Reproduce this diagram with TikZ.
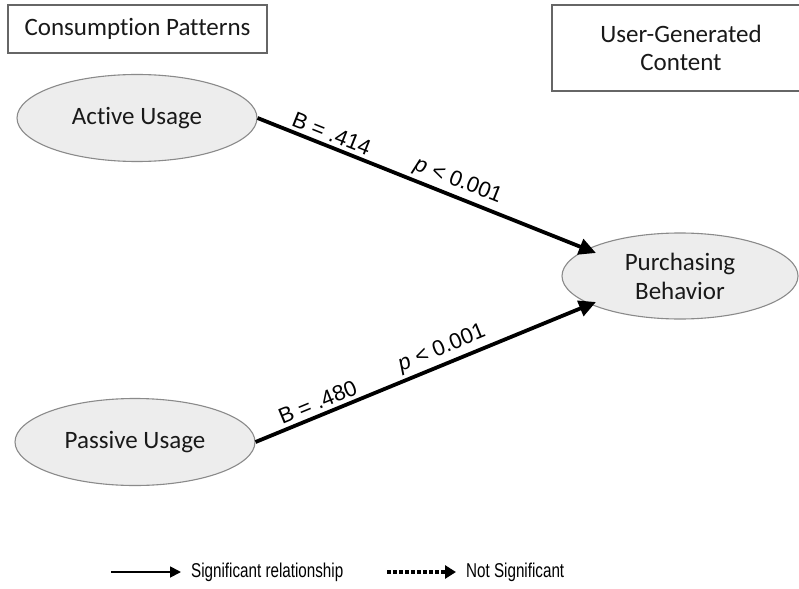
\documentclass[tikz,border=0pt]{standalone}
\usepackage{fontspec}
\setmainfont{Carlito}[Ligatures=NoCommon]
\newfontfamily\arialfont{Liberation Sans}
\newfontfamily\narrowfont[FakeStretch=0.76]{Liberation Sans}
\usetikzlibrary{arrows.meta,shapes.geometric,calc}
\definecolor{ellfill}{HTML}{EDEDED}
\definecolor{ellline}{HTML}{8A8A8A}
\definecolor{boxline}{HTML}{666666}
\tikzset{
  construct/.style={draw=ellline, line width=1.1pt, fill=ellfill, ellipse,
    minimum width=240pt, minimum height=87pt, inner sep=0pt,
    font=\fontsize{25}{29}\selectfont, align=center, text=black!90},
  groupbox/.style={draw=boxline, line width=1.3pt, inner sep=0pt,
    font=\fontsize{25}{28}\selectfont, align=center, text=black!90},
  relpath/.style={line width=3.8pt, -{Triangle[length=17pt,width=16pt]}},
  coef/.style={sloped, above, inner sep=3.5pt, font=\arialfont\fontsize{22}{26}\selectfont},
  legendtext/.style={anchor=west, inner sep=0pt, font=\narrowfont\fontsize{20}{24}\selectfont}
}
\begin{document}
\begin{tikzpicture}[x=1pt,y=-1pt]
  \useasboundingbox (0,0) rectangle (799,588);

  % group headers
  \node[groupbox, minimum width=259pt, minimum height=48pt] (cp) at (137.5,29) {\raisebox{-2pt}{Consumption Patterns}};
  \node[groupbox, minimum width=258pt, minimum height=86pt] (ugc) at (681,48) {User-Generated\\Content};

  % constructs
  \node[construct] (au) at (137,118) {\raisebox{-2pt}{Active Usage}};
  \node[construct] (pu) at (135,442) {\raisebox{-2pt}{Passive Usage}};
  \node[construct, minimum width=236pt, minimum height=86pt] (pb) at (680,276) {Purchasing\\Behavior};

  % arrow tips sit just inside the outcome ellipse
  \coordinate (tipA) at ($(pb.center)+(-84,-23)$);
  \coordinate (tipB) at ($(pb.center)+(-84,26)$);

  % structural paths
  \draw[relpath] (au.east) -- (tipA)
    node[coef, pos=0.205] {B = .414}
    node[coef, pos=0.575] {\textit{p} < 0.001};
  \draw[relpath] (pu.east) -- (tipB)
    node[coef, pos=0.197] {B = .480}
    node[coef, pos=0.565] {\textit{p} < 0.001};

  % legend
  \coordinate (ls1) at (111,572);
  \coordinate (le1) at (181,572);
  \coordinate (ls2) at (387,572);
  \coordinate (le2) at (456,572);
  \draw[line width=1.8pt, -{Triangle[length=11pt,width=11pt]}] (ls1) -- (le1);
  \node[legendtext] (lg1) at (191,572) {Significant relationship};
  \draw[line width=3.5pt, dash pattern=on 3.5pt off 2.5pt, -{Triangle[length=11pt,width=13pt]}] (ls2) -- (le2);
  \node[legendtext] (lg2) at (466,572) {Not Significant};
\end{tikzpicture}
\end{document}
